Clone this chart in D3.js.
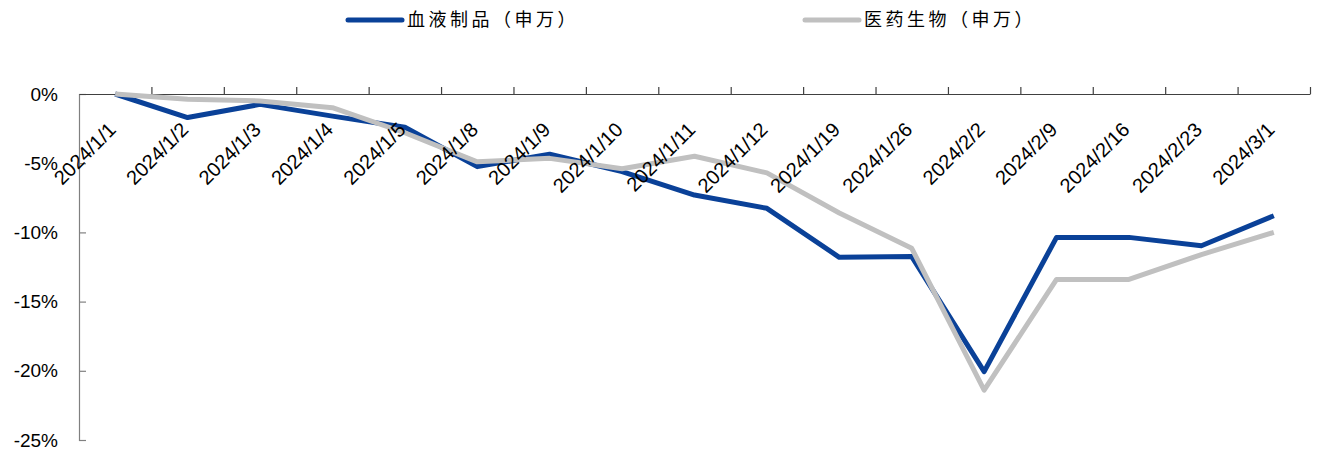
<!DOCTYPE html>
<html>
<head>
<meta charset="utf-8">
<script src="https://cdn.jsdelivr.net/npm/d3@7"></script>
<style>
  body { margin: 0; background: #fff; }
  .tick text { font-family: "Liberation Sans", Arial, sans-serif; font-size: 19px; fill: #000; }
  .legend text { font-family: "Noto Sans CJK SC", sans-serif; font-size: 18px; letter-spacing: 3.5px; fill: #000; }
</style>
</head>
<body>
<div id="chart"></div>
<script>
// categories and series (%)
var dates = ["2024/1/1", "2024/1/2", "2024/1/3", "2024/1/4", "2024/1/5", "2024/1/8", "2024/1/9",
  "2024/1/10", "2024/1/11", "2024/1/12", "2024/1/19", "2024/1/26", "2024/2/2", "2024/2/9",
  "2024/2/16", "2024/2/23", "2024/3/1"];
var blood = [0, -1.7, -0.75, -1.6, -2.4, -5.25, -4.35, -5.6, -7.3, -8.26, -11.8, -11.75, -20.06, -10.36, -10.36, -10.96, -8.8];
var biomed = [0, -0.38, -0.5, -0.99, -2.8, -4.9, -4.65, -5.4, -4.5, -5.7, -8.6, -11.15, -21.4, -13.4, -13.4, -11.6, -10.0];
var seriesNames = ["血液制品（申万）", "医药生物（申万）"];
var yTicks = [0, -5, -10, -15, -20, -25];

var svgWidth = 1317, svgHeight = 453;
var left = 79, right = 1310, top0 = 94, bottom = 440;

var svg = d3.select("#chart").append("svg")
  .attr("width", svgWidth)
  .attr("height", svgHeight);

// index scale so ticks fall on category boundaries
var xIdx = d3.scaleLinear().domain([0, dates.length]).range([left, right]);
var x = function(i) { return xIdx(i + 0.5); };
var y = d3.scaleLinear().domain([-25, 0]).range([bottom, top0]);

// y axis
var yAxis = svg.append("g")
  .attr("transform", `translate(${left},0)`)
  .call(d3.axisLeft(y).tickValues(yTicks).tickSize(-7).tickPadding(21).tickFormat(d => d + "%"));
yAxis.select(".domain").attr("stroke", "#808080").attr("stroke-width", 1.2);
yAxis.selectAll(".tick line").attr("stroke", "#808080").attr("stroke-width", 1.2);

// x axis on the zero line, ticks upward
var xAxis = svg.append("g")
  .attr("transform", `translate(0,${y(0)})`)
  .call(d3.axisTop(xIdx).tickValues(d3.range(1, dates.length + 1)).tickSize(7).tickSizeOuter(0).tickFormat(""));
xAxis.select(".domain").attr("stroke", "#404040").attr("stroke-width", 1.2);
xAxis.selectAll(".tick line").attr("stroke", "#404040").attr("stroke-width", 1.2);

// lines
var line = d3.line()
  .x((d, i) => x(i))
  .y(d => y(d));

svg.append("path")
  .datum(blood)
  .attr("fill", "none")
  .attr("stroke", "#0a4198")
  .attr("stroke-width", 5)
  .attr("stroke-linejoin", "round")
  .attr("d", line);

svg.append("path")
  .datum(biomed)
  .attr("fill", "none")
  .attr("stroke", "#c0c0c0")
  .attr("stroke-width", 5)
  .attr("stroke-linejoin", "round")
  .attr("d", line);

// rotated category labels, drawn over the lines
svg.append("g").selectAll("text")
  .data(dates)
  .enter()
  .append("text")
  .attr("transform", (d, i) => `translate(${x(i) + 2},${y(0) + 37}) rotate(-45)`)
  .attr("text-anchor", "end")
  .style("font-family", '"Liberation Sans", Arial, sans-serif')
  .style("font-size", "20px")
  .text(d => d);

// legend
var legend = svg.append("g").attr("class", "legend");
var legendItems = [
  { name: seriesNames[0], color: "#0a4198", x: 348 },
  { name: seriesNames[1], color: "#c0c0c0", x: 805 }
];
legendItems.forEach(function(item) {
  legend.append("line")
    .attr("x1", item.x).attr("x2", item.x + 54)
    .attr("y1", 20).attr("y2", 20)
    .attr("stroke", item.color)
    .attr("stroke-width", 5)
    .attr("stroke-linecap", "round");
  legend.append("text")
    .attr("x", item.x + 59)
    .attr("y", 26)
    .text(item.name);
});
</script>
</body>
</html>
